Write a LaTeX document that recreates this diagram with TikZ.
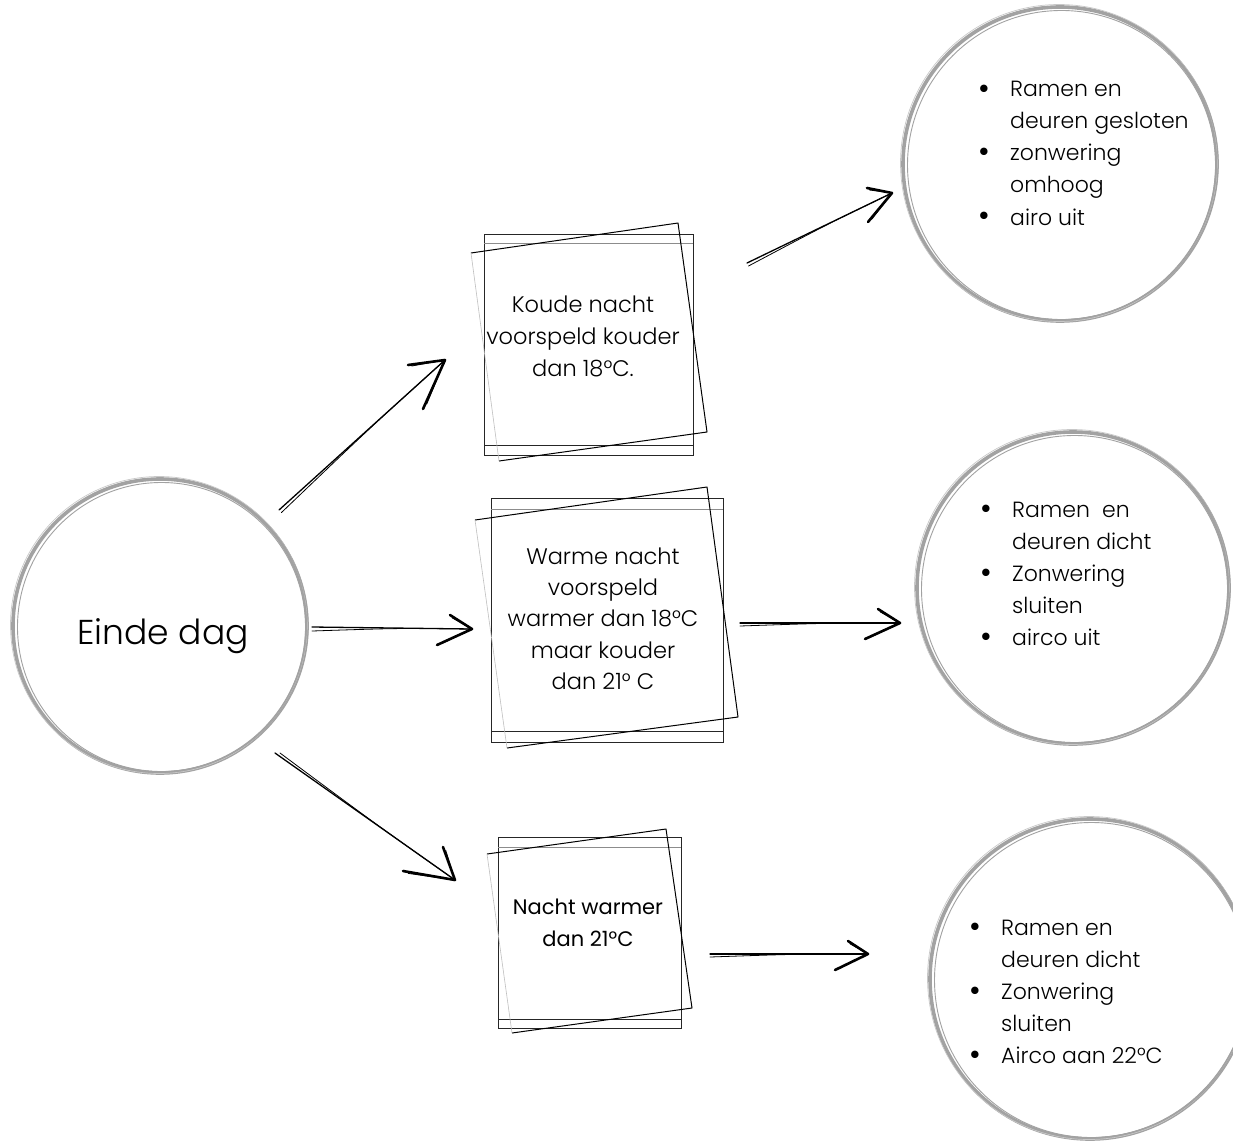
\documentclass[tikz,border=0pt]{standalone}
\usepackage{fontspec}
\setmainfont{Poppins}[UprightFont={* Light}]
\newfontfamily\boxfont{Poppins}
\usetikzlibrary{calc}
\definecolor{ringgray}{HTML}{A2A2A2}
\definecolor{ringlight}{HTML}{C8C8C8}
\newcommand\bigbullet{\raisebox{-2pt}{\fontsize{32}{32}\selectfont\textbullet}}
\newcommand\bulletlist[1]{\begin{tabular}[t]{@{}p{32pt}@{}l@{}}#1\end{tabular}}
\newcommand\centerlines[1]{\begin{tabular}[t]{@{}c@{}}#1\end{tabular}}
\newcommand\sketchring[2]{%
  \draw[ringthin] ($(#1)+(1.5,1)$) circle[x radius=#2-3, y radius=#2-2.5];
  \draw[ringpale] ($(#1)+(-1,-1)$) circle[radius=#2+1.5];
  \draw[ringthin] ($(#1)+(0.5,-0.5)$) circle[x radius=#2+0.5, y radius=#2-0.8];
}
\newcommand\sketcharrow[5]{%
  \draw[shaft] (#1) -- (#2);
  \draw[shaftthin] ($(#1)+#5$) .. controls ($(#1)!0.55!(#2)$) .. (#2);
  \draw[barb] (#3) -- (#2) -- (#4);
  \draw[shaftthin] ($(#3)!0.1!(#2)+(0,1.5)$) -- (#2);
  \draw[shaftthin] ($(#4)!0.1!(#2)+(1.5,0)$) -- (#2);
}
\begin{document}
\begin{tikzpicture}[x=1pt,y=-1pt,
  ringmain/.style={draw=ringgray,line width=3.6pt,circle,inner sep=0pt},
  ringthin/.style={draw=ringgray,line width=0.9pt},
  ringpale/.style={draw=ringlight,line width=0.7pt},
  framedark/.style={draw=black!85,line width=0.9pt},
  framelight/.style={draw=black!45,line width=0.6pt},
  tiltdark/.style={draw=black,line width=1pt,line join=round},
  tiltpale/.style={draw=black!25,line width=0.6pt},
  shaft/.style={draw=black,line width=1.3pt,line cap=round},
  shaftthin/.style={draw=black,line width=0.8pt,line cap=round},
  barb/.style={draw=black,line width=2.6pt,line cap=round,line join=round},
  boxtext/.style={font=\fontsize{22.5}{32}\selectfont, inner sep=0pt, anchor=base},
  listtext/.style={font=\fontsize{22}{32}\selectfont, inner sep=0pt, anchor=base west},
]
\useasboundingbox[fill=white] (0,0) rectangle (1233,1145);

% ---- circles
\node[ringmain, minimum size=294pt] (c0) at (160,626) {};
\sketchring{c0}{147}
\node[ringmain, minimum size=314pt] (c1) at (1060,164) {};
\sketchring{c1}{157}
\node[ringmain, minimum size=312pt] (c2) at (1073,588) {};
\sketchring{c2}{156}
\node[ringmain, minimum size=320pt] (c3) at (1090,979) {};
\sketchring{c3}{160}

\node[font=\fontsize{34.5}{40}\selectfont, inner sep=0pt, anchor=base] (einde) at (163,644) {Einde dag};

\node[listtext] (l1) at (978,97) {\bulletlist{\bigbullet & Ramen en\\ & deuren gesloten\\ \bigbullet & zonwering\\ & omhoog\\ \bigbullet & airo uit}};
\node[listtext] (l2) at (980,517) {\bulletlist{\bigbullet & Ramen\ \ en\\ & deuren dicht\\ \bigbullet & Zonwering\\ & sluiten\\ \bigbullet & airco uit}};
\node[listtext] (l3) at (969,935) {\bulletlist{\bigbullet & Ramen en\\ & deuren dicht\\ \bigbullet & Zonwering\\ & sluiten\\ \bigbullet & Airco aan 22°C}};

% ---- box 1
\draw[framedark] (484,234) -- (693,234) -- (693,445) -- (484,445) -- cycle;
\draw[framelight] (484,243) -- (693,243);
\draw[framedark] (484,455) -- (693,455) -- (693,445);
\draw[framedark] (484,445) -- (484,455);
\draw[tiltdark] (471,253) -- (678,223) -- (707,432) -- (499,461);
\draw[tiltpale] (499,461) -- (471,253);
\node[boxtext] (t1) at (583,312) {\centerlines{Koude nacht\\voorspeld kouder\\dan 18°C.}};

% ---- box 2
\draw[framedark] (491,498) -- (723,498) -- (723,731) -- (491,731) -- cycle;
\draw[framelight] (491,509) -- (723,509);
\draw[framedark] (491,742) -- (723,742) -- (723,731);
\draw[framedark] (491,731) -- (491,742);
\draw[tiltdark] (475,520) -- (707,487) -- (738,717) -- (507,748);
\draw[tiltpale] (507,748) -- (475,520);
\node[boxtext, font=\fontsize{22.5}{31.4}\selectfont] (t2) at (603,564) {\centerlines{Warme nacht\\voorspeld\\warmer dan 18°C\\maar kouder\\dan 21° C}};

% ---- box 3
\draw[framedark] (498,837) -- (681,837) -- (681,1019) -- (498,1019) -- cycle;
\draw[framelight] (498,847) -- (681,847);
\draw[framedark] (498,1028) -- (681,1028) -- (681,1019);
\draw[framedark] (498,1019) -- (498,1028);
\draw[tiltdark] (487,854) -- (666,829) -- (692,1008) -- (512,1033);
\draw[tiltpale] (512,1033) -- (487,854);
\node[boxtext, font=\boxfont\fontsize{21}{32}\selectfont] (t3) at (588,914) {\centerlines{Nacht warmer\\dan 21°C}};

% ---- arrows
\coordinate (a1s) at (279,510); \coordinate (a1e) at (445,360);
\coordinate (a1p) at (408,365); \coordinate (a1q) at (423,409);
\sketcharrow{a1s}{a1e}{a1p}{a1q}{(2.5,2.5)}

\coordinate (a2s) at (312,627); \coordinate (a2e) at (472,629);
\coordinate (a2p) at (450,615); \coordinate (a2q) at (437,645);
\sketcharrow{a2s}{a2e}{a2p}{a2q}{(0,4)}

\coordinate (a3s) at (275,753); \coordinate (a3e) at (455,880);
\coordinate (a3p) at (403,871); \coordinate (a3q) at (443,847);
\sketcharrow{a3s}{a3e}{a3p}{a3q}{(5,0)}

\coordinate (a4s) at (747,263); \coordinate (a4e) at (892,193);
\coordinate (a4p) at (867,188); \coordinate (a4q) at (868,222);
\sketcharrow{a4s}{a4e}{a4p}{a4q}{(1.5,3)}

\coordinate (a5s) at (740,623); \coordinate (a5e) at (900,623);
\coordinate (a5p) at (878,609); \coordinate (a5q) at (865,639);
\sketcharrow{a5s}{a5e}{a5p}{a5q}{(0,3)}

\coordinate (a6s) at (710,954); \coordinate (a6e) at (868,954);
\coordinate (a6p) at (848,941); \coordinate (a6q) at (835,970);
\sketcharrow{a6s}{a6e}{a6p}{a6q}{(0,3)}
\end{tikzpicture}
\end{document}
